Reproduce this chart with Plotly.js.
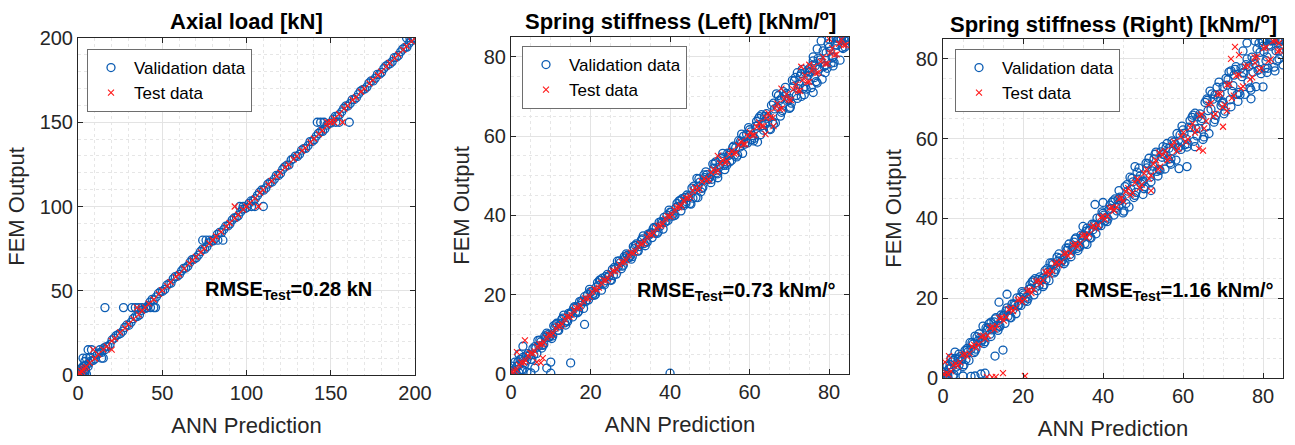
<!DOCTYPE html>
<html>
<head>
<meta charset="utf-8">
<script src="https://cdn.plot.ly/plotly-3.0.1.min.js"></script>
<style>html,body{margin:0;padding:0;background:#fff;}#chart{width:1295px;height:445px;}</style>
</head>
<body>
<div id="chart"></div>
<script>
// ---------- Panel titles, labels ----------
const panelTitles = ["Axial load [kN]", "Spring stiffness (Left) [kNm/<sup>o</sup>]", "Spring stiffness (Right) [kNm/<sup>o</sup>]"];
const rmseTexts = ["RMSE<sub>Test</sub>=0.28 kN", "RMSE<sub>Test</sub>=0.73 kNm/°", "RMSE<sub>Test</sub>=1.16 kNm/°"];
const seriesNames = ["Validation data", "Test data"];
const xTitle = "ANN Prediction";
const yTitle = "FEM Output";
const axisMax = [200, 85, 85];
const majorStep = [50, 20, 20];
const minorStep = [10, 5, 5];

// ---------- Panel 1: Axial load ----------
const axialValX = [
 0.2,0.5,1,1.5,2,2.5,3,3.5,4,4.5,5,1,0.5,2,3,4,5,6,
 3,5,7,14,15,4,6,8,13,16,
 16,27,32,34,36,38,41,43,45,46,
 74,76,78,83,86,
 96,98,103,105,110,
 142,144,146,153,155,161,
 195,197,199,200,
 6.5,9,11.5,14,16.5,19,21.5,24,26.5,29,31.5,34,36.5,39,41.5,44,46.5,49,51.5,54,56.5,59,61.5,64,66.5,69,71.5,74,76.5,79,81.5,84,86.5,89,91.5,94,96.5,99,101.5,104,106.5,109,111.5,114,116.5,119,121.5,124,126.5,129,131.5,134,136.5,139,141.5,144,146.5,149,151.5,154,156.5,159,161.5,164,166.5,169,171.5,174,176.5,179,181.5,184,186.5,189,191.5,194,196.5,199,
 7.7,10.2,12.7,15.2,17.7,20.2,22.7,25.2,27.7,30.2,32.7,35.2,37.7,40.2,42.7,45.2,47.7,50.2,52.7,55.2,57.7,60.2,62.7,65.2,67.7,70.2,72.7,75.2,77.7,80.2,82.7,85.2,87.7,90.2,92.7,95.2,97.7,100.2,102.7,105.2,107.7,110.2,112.7,115.2,117.7,120.2,122.7,125.2,127.7,130.2,132.7,135.2,137.7,140.2,142.7,145.2,147.7,150.2,152.7,155.2,157.7,160.2,162.7,165.2,167.7,170.2,172.7,175.2,177.7,180.2,182.7,185.2,187.7,190.2,192.7,195.2,197.7
];
const axialValY = [
 0,1,0,2,0.5,1.5,0,2,1,3,0.5,2.5,3,4,5,5.5,6,5,
 10,10,10,10,10,8,15,15,15,15,
 40,40,40,40,40,40,40,40,40,40,
 80,80,80,80,80,
 100,100,100,100,100,
 150,150,150,150,150,150,
 200,200,200,200,
 7.0,8.7,12.3,13.4,16.7,18.1,21.9,24.1,26.0,29.7,31.3,34.6,35.7,39.3,41.1,44.9,46.4,49.5,50.8,54.2,57.1,58.6,61.8,63.5,66.9,68.8,71.2,74.7,76.1,79.4,81.0,84.6,86.3,88.5,92.0,93.6,96.8,98.7,101.9,103.4,106.6,109.8,111.0,114.3,116.2,118.4,122.1,124.5,127.6,129.9,131.0,134.4,136.1,138.6,141.8,144.5,146.0,149.3,151.9,153.6,156.2,159.7,161.1,163.5,166.8,169.4,171.0,174.6,176.2,178.5,181.9,184.3,186.0,188.6,191.8,194.4,196.9,199.6,
 8.3,9.6,13.2,15.9,17.0,20.8,23.4,24.6,28.2,29.5,33.4,34.7,38.3,39.6,43.3,44.6,48.4,49.7,53.3,54.5,58.4,59.7,63.3,64.6,68.5,69.6,73.3,74.7,78.4,79.6,83.5,84.5,88.3,89.7,93.2,94.6,98.4,99.5,103.3,104.6,108.4,109.7,113.3,114.5,118.4,119.6,123.5,124.6,128.3,129.7,133.4,134.5,138.5,139.7,143.4,144.6,148.3,149.6,153.5,154.5,158.3,159.6,163.4,164.6,168.5,169.7,173.3,174.5,178.4,179.6,183.3,184.7,188.3,189.6,193.4,194.6,198.3
];
const axialTestX = [
 0.5,1,1.5,2,2.5,3,4,5,7,10,12,15,17,20,22,25,28,30,33,36,38,40,42,45,48,50,53,55,58,60,63,66,68,70,73,75,78,80,82,85,88,90,93,95,98,100,102,105,108,110,113,115,118,120,123,125,128,130,133,135,138,140,143,145,148,150,152,155,158,160,163,165,168,170,173,175,178,180,183,185,188,190,193,195,198,200,
 9,20,35,93,107,157,148,152,80
];
const axialTestY = [
 0.3,1.2,1.0,2.4,2.2,3.3,4.1,4.8,7.2,9.8,12.3,15.0,16.8,20.2,21.7,25.3,27.8,30.2,33.1,35.8,38.2,40.0,42.3,44.8,48.1,50.2,52.8,55.1,58.2,59.8,63.1,66.2,67.9,70.1,72.8,75.2,78.1,80.0,82.2,84.9,88.1,90.2,92.9,95.1,98.2,100.0,102.1,104.8,108.2,109.9,113.1,115.2,117.9,120.1,123.2,124.9,128.1,130.0,133.2,134.8,138.1,140.2,142.9,145.1,148.0,150.0,152.2,154.9,158.1,159.9,163.2,164.8,168.1,170.0,173.1,175.2,177.9,180.1,183.0,185.2,187.9,190.1,193.0,195.2,198.0,200.0,
 15,15,40,100,100,150,150,150,80
];

// ---------- Panel 2: Spring stiffness (Left) ----------
const leftValX = [
 0,1,2,3,4,5,6,7,8,9,10,11,12,13,14,15,16,17,18,19,20,21,22,23,24,25,26,27,28,29,30,31,32,33,34,35,36,37,38,39,40,41,42,43,44,45,46,47,48,49,50,51,52,53,54,55,56,57,58,59,60,61,62,63,64,65,66,67,68,69,70,71,72,73,74,75,76,77,78,79,80,81,82,83,84,
 0.5,1.5,2.5,3.5,4.5,5.5,6.5,7.5,8.5,9.5,10.5,11.5,12.5,13.5,14.5,15.5,16.5,17.5,18.5,19.5,20.5,21.5,22.5,23.5,24.5,25.5,26.5,27.5,28.5,29.5,30.5,31.5,32.5,33.5,34.5,35.5,36.5,37.5,38.5,39.5,40.5,41.5,42.5,43.5,44.5,45.5,46.5,47.5,48.5,49.5,50.5,51.5,52.5,53.5,54.5,55.5,56.5,57.5,58.5,59.5,60.5,61.5,62.5,63.5,64.5,65.5,66.5,67.5,68.5,69.5,70.5,71.5,72.5,73.5,74.5,75.5,76.5,77.5,78.5,79.5,80.5,81.5,82.5,83.5,84.5,
 0.25,1.25,2.25,3.25,4.25,5.25,6.25,7.25,8.25,9.25,10.25,11.25,12.25,13.25,14.25,15.25,16.25,17.25,18.25,19.25,20.25,21.25,22.25,23.25,24.25,25.25,26.25,27.25,28.25,29.25,30.25,31.25,32.25,33.25,34.25,35.25,36.25,37.25,38.25,39.25,40.25,41.25,42.25,43.25,44.25,45.25,46.25,47.25,48.25,49.25,50.25,51.25,52.25,53.25,54.25,55.25,56.25,57.25,58.25,59.25,60.25,61.25,62.25,63.25,64.25,65.25,66.25,67.25,68.25,69.25,70.25,71.25,72.25,73.25,74.25,75.25,76.25,77.25,78.25,79.25,80.25,81.25,82.25,83.25,84.25,
 0.75,1.75,2.75,3.75,4.75,5.75,6.75,7.75,8.75,9.75,10.75,11.75,12.75,13.75,14.75,15.75,16.75,17.75,18.75,19.75,20.75,21.75,22.75,23.75,24.75,25.75,26.75,27.75,28.75,29.75,30.75,31.75,32.75,33.75,34.75,35.75,36.75,37.75,38.75,39.75,40.75,41.75,42.75,43.75,44.75,45.75,46.75,47.75,48.75,49.75,50.75,51.75,52.75,53.75,54.75,55.75,56.75,57.75,58.75,59.75,60.75,61.75,62.75,63.75,64.75,65.75,66.75,67.75,68.75,69.75,70.75,71.75,72.75,73.75,74.75,75.75,76.75,77.75,78.75,79.75,80.75,81.75,82.75,83.75,84.75,
 76,77,78,80,82,84,85,83,81,79,75,74,72,70,73,76,68,66,62,58,55,52,47,44,
 10,9,10,15,18.5,40,3,2,1,0.2,0.5,2,4,6,5,3,1.2,0.3
];
const leftValY = [
 0.8,0.1,2.3,4.2,3.5,3.7,6.9,7.1,7.2,10.3,9.8,11.6,11.0,14.1,13.4,15.4,17.0,15.8,18.2,18.6,20.8,19.9,22.3,24.2,23.5,23.7,26.9,27.1,27.2,30.3,29.8,31.6,31.0,34.1,33.4,35.4,37.0,35.8,38.2,38.6,40.8,39.9,42.3,44.2,43.5,43.0,47.4,47.2,46.8,51.0,49.7,51.9,50.5,54.7,53.1,55.6,57.5,55.2,58.3,58.4,61.6,58.8,62.6,65.4,63.0,61.8,68.3,67.3,66.0,72.3,69.5,72.5,69.5,75.8,72.5,76.2,79.0,73.4,78.6,77.8,82.4,77.7,82.9,84.6,82.5,
 0.2,2.0,3.7,2.5,4.5,6.4,5.2,8.1,9.6,9.2,9.6,12.8,12.7,12.9,15.3,14.4,16.9,17.3,19.5,18.7,19.8,22.0,23.7,22.5,24.5,26.4,25.2,28.1,29.6,29.2,29.6,32.8,32.7,32.9,35.3,34.4,36.9,37.3,39.5,38.7,39.8,42.0,43.7,42.5,44.5,46.9,44.5,48.4,50.2,49.0,49.1,53.5,52.8,52.6,55.7,53.9,57.1,57.2,60.0,58.3,59.1,62.5,64.9,61.5,64.5,67.8,63.3,69.0,71.2,68.8,68.3,74.8,73.0,72.0,76.5,72.2,77.7,76.9,81.5,77.1,78.4,83.0,84.6,82.1,84.9,
 0.75,0.1,3.65,2.85,5.15,3.65,6.55,8.55,7.45,9.95,8.95,12.45,12.15,14.85,13.25,15.65,15.55,18.25,16.55,20.05,20.75,20.05,23.65,22.85,25.15,23.65,26.55,28.55,27.45,29.95,28.95,32.45,32.15,34.85,33.25,35.65,35.55,38.25,36.55,40.05,40.75,40.05,43.65,42.85,45.15,42.85,46.65,49.25,47.05,50.25,48.25,53.05,52.05,55.65,52.65,55.85,55.25,58.85,55.65,60.45,61.05,59.45,64.45,62.65,65.65,61.65,66.85,70.25,66.45,70.75,67.25,73.95,71.95,76.85,71.85,76.15,74.75,79.65,74.35,81.05,81.45,78.55,84.6,82.35,84.8,
 0.35,3.05,1.15,4.55,4.85,4.85,8.45,6.55,9.25,9.45,12.15,11.05,13.75,12.35,15.05,16.65,15.45,18.45,18.25,21.35,20.35,23.05,21.15,24.55,24.85,24.85,28.45,26.55,29.25,29.45,32.15,31.05,33.75,32.35,35.05,36.65,35.45,38.45,38.25,41.35,40.35,43.05,41.15,44.55,44.85,44.35,49.35,45.95,49.55,49.35,52.95,50.75,54.35,51.55,55.15,57.15,54.75,58.75,57.95,62.15,60.15,63.75,60.35,64.95,64.95,63.65,70.65,65.05,69.95,69.15,74.05,70.25,75.15,70.45,75.35,77.85,73.75,79.25,77.55,83.35,79.85,84.75,79.15,84.8,84.9,
 80,82,84,84.5,84,84,84.2,84.5,80,76,77,76,76,67,70,71,69.5,63,58.5,60.5,53.5,49.5,44.5,43,
 3,1.5,0.2,2.8,12.5,0.2,7,5,3,2,1,0.3,0.5,1.5,0.3,1.0,0.5,0.3
];
const leftTestX = [
 0.3,1.4,2.6,3.7,4.9,6.0,7.2,8.3,9.5,10.6,11.8,12.9,14.1,15.2,16.4,17.5,18.7,19.8,21.0,22.1,23.3,24.4,25.6,26.7,27.9,29.0,30.2,31.3,32.5,33.6,34.8,35.9,37.1,38.2,39.4,40.5,41.7,42.8,44.0,45.1,46.3,47.4,48.6,49.7,50.9,52.0,53.2,54.3,55.5,56.6,57.8,58.9,60.1,61.2,62.4,63.5,64.7,65.8,67.0,68.1,69.3,70.4,71.6,72.7,73.9,75.0,76.2,77.3,78.5,79.6,80.8,81.9,83.1,84.2,
 0.9,2.0,3.2,4.3,5.5,6.6,7.8,8.9,10.1,11.2,12.4,13.5,14.7,15.8,17.0,18.1,19.3,20.4,21.6,22.7,23.9,25.0,26.2,27.3,28.5,29.6,30.8,31.9,33.1,34.2,35.4,36.5,37.7,38.8,40.0,41.1,42.3,43.4,44.6,45.7,46.9,48.0,49.2,50.3,51.5,52.6,53.8,54.9,56.1,57.2,58.4,59.5,60.7,61.8,63.0,64.1,65.3,66.4,67.6,68.7,69.9,71.0,72.2,73.3,74.5,75.6,76.8,77.9,79.1,80.2,81.4,82.5,83.7,
 1.5,3.5,6.5,7.5,8,52,64,68,73,75,80,66
];
const leftTestY = [
 0.6,1.1,2.9,3.4,5.3,5.7,7.5,8.0,9.9,10.3,12.1,12.6,14.5,14.9,16.7,17.2,19.1,19.5,21.4,21.8,23.6,24.1,26.0,26.4,28.2,28.7,30.6,31.0,32.8,33.3,35.2,35.6,37.4,37.9,39.8,40.2,42.0,42.5,44.4,44.8,47.0,46.8,49.3,49.1,51.6,51.3,54.0,53.6,56.3,55.8,58.6,58.0,61.0,60.3,63.4,62.5,65.8,64.6,68.2,67.0,70.6,69.1,73.0,71.4,75.3,73.7,77.6,76.0,79.9,78.3,82.2,80.6,84.4,83.0,
 0.7,2.3,2.9,4.6,5.2,6.9,7.5,9.2,9.8,11.5,12.1,13.8,14.4,16.1,16.7,18.4,19.0,20.7,21.3,23.0,23.6,25.3,25.9,27.6,28.2,29.9,30.5,32.2,32.8,34.5,35.1,36.8,37.4,39.1,39.7,41.4,42.0,43.7,44.3,46.2,46.4,48.5,48.7,50.8,51.0,53.1,53.3,55.4,55.6,57.7,57.9,60.0,60.2,62.3,62.5,64.6,64.8,67.0,66.8,69.4,69.2,71.8,71.4,74.1,73.6,76.4,75.9,78.8,78.2,81.0,80.5,83.3,82.9,
 5.5,8.5,3,2.8,4,55,60.5,72,77.5,78,84.5,62.5
];

// ---------- Panel 3: Spring stiffness (Right) ----------
const rightValX = [
 0,1,2,3,4,5,6,7,8,9,10,11,12,13,14,15,16,17,18,19,20,21,22,23,24,25,26,27,28,29,30,31,32,33,34,35,36,37,38,39,40,41,42,43,44,45,46,47,48,49,50,51,52,53,54,55,56,57,58,59,60,61,62,63,64,65,66,67,68,69,70,71,72,73,74,75,76,77,78,79,80,81,82,83,84,
 0.5,1.5,2.5,3.5,4.5,5.5,6.5,7.5,8.5,9.5,10.5,11.5,12.5,13.5,14.5,15.5,16.5,17.5,18.5,19.5,20.5,21.5,22.5,23.5,24.5,25.5,26.5,27.5,28.5,29.5,30.5,31.5,32.5,33.5,34.5,35.5,36.5,37.5,38.5,39.5,40.5,41.5,42.5,43.5,44.5,45.5,46.5,47.5,48.5,49.5,50.5,51.5,52.5,53.5,54.5,55.5,56.5,57.5,58.5,59.5,60.5,61.5,62.5,63.5,64.5,65.5,66.5,67.5,68.5,69.5,70.5,71.5,72.5,73.5,74.5,75.5,76.5,77.5,78.5,79.5,80.5,81.5,82.5,83.5,84.5,
 0.25,1.25,2.25,3.25,4.25,5.25,6.25,7.25,8.25,9.25,10.25,11.25,12.25,13.25,14.25,15.25,16.25,17.25,18.25,19.25,20.25,21.25,22.25,23.25,24.25,25.25,26.25,27.25,28.25,29.25,30.25,31.25,32.25,33.25,34.25,35.25,36.25,37.25,38.25,39.25,40.25,41.25,42.25,43.25,44.25,45.25,46.25,47.25,48.25,49.25,50.25,51.25,52.25,53.25,54.25,55.25,56.25,57.25,58.25,59.25,60.25,61.25,62.25,63.25,64.25,65.25,66.25,67.25,68.25,69.25,70.25,71.25,72.25,73.25,74.25,75.25,76.25,77.25,78.25,79.25,80.25,81.25,82.25,83.25,84.25,
 0.75,1.75,2.75,3.75,4.75,5.75,6.75,7.75,8.75,9.75,10.75,11.75,12.75,13.75,14.75,15.75,16.75,17.75,18.75,19.75,20.75,21.75,22.75,23.75,24.75,25.75,26.75,27.75,28.75,29.75,30.75,31.75,32.75,33.75,34.75,35.75,36.75,37.75,38.75,39.75,40.75,41.75,42.75,43.75,44.75,45.75,46.75,47.75,48.75,49.75,50.75,51.75,52.75,53.75,54.75,55.75,56.75,57.75,58.75,59.75,60.75,61.75,62.75,63.75,64.75,65.75,66.75,67.75,68.75,69.75,70.75,71.75,72.75,73.75,74.75,75.75,76.75,77.75,78.75,79.75,80.75,81.75,82.75,83.75,84.75,
 76,78,80,82,84,85,83,80,77,75,79,81,84,72,70,68,66,63,61,59,57,55,52,50,48,36,38,40,44,35,16,14,12,10,8,6,4,3,2,1,0.5,0.3,1.2,2.5,5,7,8,9.5,10.5,13,15
];
const rightValY = [
 1.3,0.2,2.5,4.9,3.2,2.9,7.4,7.2,6.7,11.1,9.7,12.0,10.4,14.8,13.0,15.6,17.6,15.1,18.3,18.4,21.3,19.2,22.5,24.9,23.2,22.9,27.4,27.2,26.7,31.1,29.7,32.0,30.4,34.8,33.0,35.6,37.6,35.1,38.3,38.4,41.3,39.2,42.5,44.9,43.2,41.4,48.5,47.3,45.8,52.6,49.4,52.7,49.2,56.1,52.3,56.1,58.8,53.6,58.6,57.9,62.2,57.9,62.8,66.4,62.6,59.8,69.6,67.4,64.8,74.2,69.2,73.4,68.0,77.4,71.6,76.6,80.0,72.2,78.8,77.4,83.2,76.6,83.2,84.8,82.0,
 0.2,2.3,4.4,1.9,4.5,6.9,4.4,8.5,10.3,9.0,9.1,13.6,12.8,12.5,15.8,13.7,17.1,17.2,20.1,18.2,19.4,22.3,24.4,21.9,24.5,26.9,24.4,28.5,30.3,29.0,29.1,33.6,32.8,32.5,35.8,33.7,37.1,37.2,40.1,38.2,39.4,42.3,44.4,41.9,44.5,48.0,42.9,49.2,51.6,48.7,48.0,55.1,53.1,51.8,56.7,52.4,57.6,56.9,61.3,57.3,58.5,62.9,65.9,60.7,64.5,69.1,61.3,69.9,72.9,68.3,66.9,76.7,73.3,71.1,77.7,71.1,78.1,76.7,82.5,76.3,77.7,83.5,84.6,79.5,84.5,
 0.85,0.1,4.05,2.75,5.35,3.35,6.55,8.85,7.25,10.05,8.65,12.65,12.05,15.15,12.95,15.75,15.45,18.55,16.15,20.25,20.85,19.85,24.05,22.75,25.35,23.35,26.55,28.85,27.25,30.05,28.65,32.65,32.05,35.15,32.95,35.75,35.45,38.55,36.15,40.25,40.85,39.85,44.05,42.75,45.35,41.85,46.85,50.05,46.55,50.65,47.45,53.75,51.95,56.65,52.05,56.05,54.85,59.45,54.65,60.95,61.35,58.75,65.35,62.45,66.25,60.45,67.05,71.25,65.85,71.25,66.25,74.85,71.85,78.05,71.05,76.45,74.25,80.45,73.05,81.65,81.85,77.65,84.6,82.05,84.8,
 0.25,3.35,0.85,4.75,4.95,4.65,8.85,6.35,9.35,9.45,12.55,10.95,14.05,11.95,15.05,16.85,15.15,18.55,18.15,21.65,20.25,23.35,20.85,24.75,24.95,24.65,28.85,26.35,29.35,29.45,32.55,30.95,34.05,31.95,35.05,36.85,35.15,38.55,38.15,41.65,40.25,43.35,40.85,44.75,44.95,43.75,50.35,45.25,49.85,49.15,53.85,50.35,54.95,50.65,55.35,57.75,53.95,59.15,57.65,63.15,59.95,64.55,59.35,65.45,65.05,62.95,71.95,64.15,70.35,68.95,75.15,69.75,75.95,69.35,75.55,78.55,72.75,79.75,77.15,84.55,79.55,84.8,77.95,84.8,84.9,
 84,84.5,84.5,84.5,84.2,78.5,77,73,70,82,84,80.5,80,77,73,71,70,58,53,52.5,55,58,47,46,53,33.5,43.5,44,47,38,21,19,14,13,10.5,7,6,6.5,5,3,1.5,0.3,0.8,0.5,0.5,0.4,0.5,1.0,1.2,5.5,7
];
const rightTestX = [
 0.3,1.4,2.6,3.7,4.9,6.0,7.2,8.3,9.5,10.6,11.8,12.9,14.1,15.2,16.4,17.5,18.7,19.8,21.0,22.1,23.3,24.4,25.6,26.7,27.9,29.0,30.2,31.3,32.5,33.6,34.8,35.9,37.1,38.2,39.4,40.5,41.7,42.8,44.0,45.1,46.3,47.4,48.6,49.7,50.9,52.0,53.2,54.3,55.5,56.6,57.8,58.9,60.1,61.2,62.4,63.5,64.7,65.8,67.0,68.1,69.3,70.4,71.6,72.7,73.9,75.0,76.2,77.3,78.5,79.6,80.8,81.9,83.1,84.2,
 0.9,2.0,3.2,4.3,5.5,6.6,7.8,8.9,10.1,11.2,12.4,13.5,14.7,15.8,17.0,18.1,19.3,20.4,21.6,22.7,23.9,25.0,26.2,27.3,28.5,29.6,30.8,31.9,33.1,34.2,35.4,36.5,37.7,38.8,40.0,41.1,42.3,43.4,44.6,45.7,46.9,48.0,49.2,50.3,51.5,52.6,53.8,54.9,56.1,57.2,58.4,59.5,60.7,61.8,63.0,64.1,65.3,66.4,67.6,68.7,69.9,71.0,72.2,73.3,74.5,75.6,76.8,77.9,79.1,80.2,81.4,82.5,83.7,
 11,12.3,13.2,15,20.5,0.5,1.5,52,54,64,65,70,71,74,72,73,78,84
];
const rightTestY = [
 1.0,0.9,3.3,3.0,5.8,5.4,7.9,7.6,10.4,9.8,12.6,12.2,15.0,14.4,17.2,16.8,19.6,19.1,21.9,21.3,24.2,23.7,26.5,25.9,28.7,28.3,31.1,30.6,33.3,32.9,35.7,35.2,37.9,37.5,40.3,39.8,42.6,42.0,44.9,44.3,47.6,46.4,49.9,48.5,52.3,50.8,54.6,53.0,56.9,55.3,59.2,57.6,61.5,59.9,63.8,62.2,66.1,64.4,68.9,66.2,71.3,68.5,73.7,70.8,76.0,73.1,78.3,75.4,80.6,77.7,82.9,79.9,84.6,82.1,
 1.2,1.7,3.6,3.9,6.0,6.1,8.3,8.4,10.6,10.7,12.9,13.0,15.2,15.3,17.5,17.6,19.8,19.9,22.1,22.2,24.4,24.5,26.7,26.8,29.0,29.1,31.3,31.4,33.6,33.7,35.9,36.0,38.2,38.3,40.5,40.6,42.8,42.9,45.1,46.7,45.9,49.0,47.7,51.3,50.0,53.6,52.3,55.9,54.6,58.2,56.9,60.5,59.2,62.8,61.5,65.8,62.6,68.6,65.6,71.2,67.9,73.5,70.2,75.8,72.6,78.1,74.9,80.4,77.2,82.7,79.5,84.5,81.9,
 0.3,0.2,0.3,1.2,0.5,4,5.5,47,56.5,57.5,57,63,67,81,80,83,79,84
];

// ---------- Build figure ----------
const FONT = "Liberation Sans, Arial, Helvetica, sans-serif";
const valColor = "#0B5CB3";
const testColor = "#FF1A1A";
const panels = [
  {vx: axialValX, vy: axialValY, tx: axialTestX, ty: axialTestY},
  {vx: leftValX, vy: leftValY, tx: leftTestX, ty: leftTestY},
  {vx: rightValX, vy: rightValY, tx: rightTestX, ty: rightTestY}
];
const xDomains = [[78/1295, 415/1295], [511/1295, 849/1295], [943/1295, 1283/1295]];
const yDomains = [[70/445, 407/445], [71/445, 408/445], [67/445, 406/445]];
const legendPos = [[87, 49], [522, 46], [955, 49]];
const rmsePos = [[74, 50], [31.2, 20.9], [32.5, 21.8]];
const titleY = [22, 20, 23];

const data = [];
const layout = {
  width: 1295, height: 445,
  margin: {l: 0, r: 0, t: 0, b: 0},
  paper_bgcolor: "#ffffff", plot_bgcolor: "#ffffff",
  font: {family: FONT, color: "#262626"},
  annotations: [],
  showlegend: true
};

panels.forEach((p, i) => {
  const sfx = i === 0 ? "" : String(i + 1);
  const lg = i === 0 ? "legend" : "legend" + (i + 1);
  data.push({
    type: "scatter", mode: "markers", x: p.vx, y: p.vy,
    xaxis: "x" + sfx, yaxis: "y" + sfx, name: seriesNames[0], legend: lg,
    marker: {symbol: "circle-open", size: 8, color: valColor, line: {width: 1.3, color: valColor}},
    hoverinfo: "skip"
  });
  data.push({
    type: "scatter", mode: "markers", x: p.tx, y: p.ty,
    xaxis: "x" + sfx, yaxis: "y" + sfx, name: seriesNames[1], legend: lg,
    marker: {symbol: "x-thin-open", size: 6, color: testColor, line: {width: 1.1, color: testColor}},
    hoverinfo: "skip"
  });
  const common = {
    range: [0, axisMax[i]], dtick: majorStep[i], tick0: 0,
    showgrid: true, gridcolor: "#e3e3e3", gridwidth: 1,
    minor: {dtick: minorStep[i], showgrid: true, gridcolor: "#e6e6e6", griddash: "dot", ticks: ""},
    showline: true, linecolor: "#262626", linewidth: 1, mirror: "ticks",
    ticks: "inside", ticklen: 5, tickcolor: "#262626",
    tickfont: {family: FONT, size: 20, color: "#262626"},
    zeroline: false, automargin: false, fixedrange: true
  };
  layout["xaxis" + sfx] = Object.assign({}, common, {
    domain: xDomains[i], anchor: "y" + sfx,
    title: {text: xTitle, font: {family: FONT, size: 22, color: "#262626"}, standoff: 14}
  });
  layout["yaxis" + sfx] = Object.assign({}, common, {
    domain: yDomains[i], anchor: "x" + sfx,
    title: {text: yTitle, font: {family: FONT, size: 22, color: "#262626"}, standoff: 8}
  });
  layout[lg] = {
    x: legendPos[i][0] / 1295, y: 1 - legendPos[i][1] / 445,
    xanchor: "left", yanchor: "top",
    bgcolor: "#ffffff", bordercolor: "#6e6e6e", borderwidth: 1,
    font: {family: FONT, size: 17, color: "#000000"},
    itemsizing: "trace", itemwidth: 36, tracegroupgap: 0
  };
  layout.annotations.push({
    xref: "x" + sfx, yref: "y" + sfx, x: rmsePos[i][0], y: rmsePos[i][1],
    xanchor: "left", yanchor: "middle", showarrow: false,
    text: "<b>" + rmseTexts[i] + "</b>",
    font: {family: FONT, size: 20, color: "#000000"}
  });
  layout.annotations.push({
    xref: "paper", yref: "paper",
    x: (xDomains[i][0] + xDomains[i][1]) / 2, y: 1 - titleY[i] / 445,
    xanchor: "center", yanchor: "middle", showarrow: false,
    text: "<b>" + panelTitles[i] + "</b>",
    font: {family: FONT, size: 22, color: "#000000"}
  });
});

Plotly.newPlot("chart", data, layout, {staticPlot: true, displayModeBar: false});
</script>
</body>
</html>
